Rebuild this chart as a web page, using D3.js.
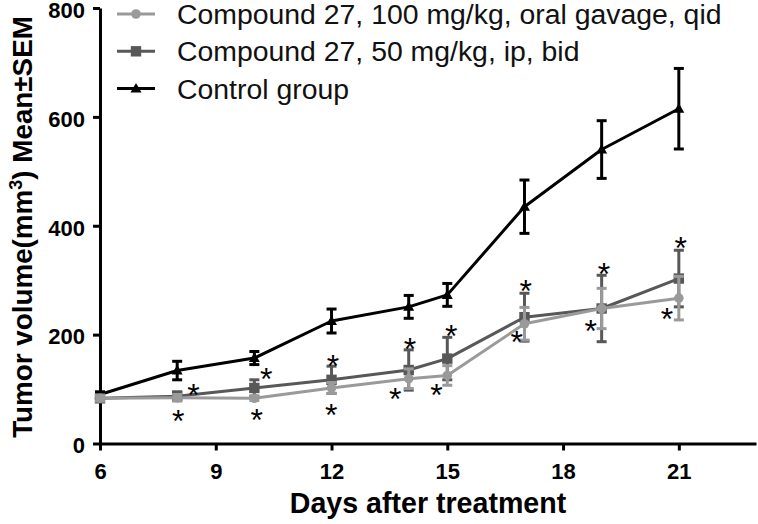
<!DOCTYPE html>
<html><head><meta charset="utf-8">
<script src="https://cdn.jsdelivr.net/npm/d3@7"></script>
<style>
html,body{margin:0;padding:0;background:#fff;}
text{font-family:"Liberation Sans",Arial,sans-serif;}
</style></head>
<body><svg id="chart" width="758" height="524"></svg>
<script>
const days = [6, 8, 10, 12, 14, 15, 17, 19, 21];
const seriesNames = ["Compound 27, 100 mg/kg, oral gavage, qid", "Compound 27, 50 mg/kg, ip, bid", "Control group"];
const c100Mean = [83, 84, 83, 102, 119, 125, 220, 248, 267];
const c100Sem  = [5, 6, 4, 10, 18, 18, 30, 37, 40];
const c50Mean  = [83, 87, 102, 117, 135, 156, 232, 248, 303];
const c50Sem   = [5, 8, 15, 25, 37, 39, 44, 61, 52];
const ctrlMean = [90, 134, 157, 225, 251, 273, 435, 540, 615];
const ctrlSem  = [5, 17, 12, 22, 21, 21, 49, 53, 74];
const xTicks = [6, 9, 12, 15, 18, 21];
const yTicks = [0, 200, 400, 600, 800];
// significance asterisks: [day, value] at mark centre
const starPos = [[8.42,101],[8.03,52],[10.31,129],[10.06,54],[12.04,154],[11.99,64],[14.03,185],[13.65,93],[15.1,208],[14.72,100],[17.03,291],[16.8,197],[19.06,323],[18.72,217],[21.05,370],[20.69,239]];

const svg = d3.select("#chart");
const x = d3.scaleLinear().domain([6, 23]).range([100, 756]);
const y = d3.scaleLinear().domain([0, 800]).range([443.5, 8]);

const series = [
  {name: seriesNames[2], mean: ctrlMean, sem: ctrlSem, color: "#000000", sym: "triangle"},
  {name: seriesNames[1], mean: c50Mean, sem: c50Sem, color: "#585858", sym: "square"},
  {name: seriesNames[0], mean: c100Mean, sem: c100Sem, color: "#9a9a9a", sym: "circle"}
];

function drawMarker(g, sym, color, cx, cy) {
  if (sym === "circle") g.append("circle").attr("cx", cx).attr("cy", cy).attr("r", 4.8).attr("fill", color);
  else if (sym === "square") g.append("rect").attr("x", cx-5.2).attr("y", cy-5.2).attr("width", 10.4).attr("height", 10.4).attr("fill", color);
  else g.append("path").attr("d", `M${cx},${cy-5.5}L${cx+5.5},${cy+4}L${cx-5.5},${cy+4}Z`).attr("fill", color);
}

// axes
const yAxis = svg.append("g").attr("transform", "translate(100,0)")
  .call(d3.axisLeft(y).tickValues(yTicks).tickSize(7).tickSizeOuter(0).tickPadding(8));
const xAxis = svg.append("g").attr("transform", "translate(0,443.5)")
  .call(d3.axisBottom(x).tickValues(xTicks).tickSize(7).tickSizeOuter(0).tickPadding(14));
[yAxis, xAxis].forEach(a => {
  a.selectAll("path.domain").attr("stroke", "#000").attr("stroke-width", 3);
  a.selectAll(".tick line").attr("stroke", "#000").attr("stroke-width", 3);
  a.selectAll(".tick text").attr("fill", "#000").style("font-size", "22px").style("font-weight", "bold")
    .style("font-family", '"Liberation Sans",Arial,sans-serif');
});
yAxis.selectAll(".tick text").attr("dy", "0.42em");
xAxis.selectAll(".tick text").attr("dy", "0.68em");

// series
const line = d3.line();
series.forEach(s => {
  const g = svg.append("g");
  const pts = days.map((d, i) => [x(d), y(s.mean[i])]);
  g.append("path").attr("d", line(pts)).attr("fill", "none").attr("stroke", s.color).attr("stroke-width", 3).attr("stroke-linejoin", "round");
  days.forEach((d, i) => {
    const cx = x(d), top = y(s.mean[i] + s.sem[i]), bot = y(s.mean[i] - s.sem[i]);
    g.append("line").attr("x1", cx).attr("x2", cx).attr("y1", top).attr("y2", bot).attr("stroke", s.color).attr("stroke-width", 3);
    [top, bot].forEach(yy => g.append("line").attr("x1", cx-5).attr("x2", cx+5).attr("y1", yy).attr("y2", yy).attr("stroke", s.color).attr("stroke-width", 3));
    drawMarker(g, s.sym, s.color, cx, y(s.mean[i]));
  });
});

// asterisks
svg.append("g").selectAll("text").data(starPos).join("text")
  .attr("x", d => x(d[0])).attr("y", d => y(d[1]) + 17)
  .attr("text-anchor", "middle").style("font-size", "32px").attr("fill", "#000").text("*");

// legend
const legendRows = [
  {name: seriesNames[0], color: "#9a9a9a", sym: "circle"},
  {name: seriesNames[1], color: "#585858", sym: "square"},
  {name: seriesNames[2], color: "#000000", sym: "triangle"}
];
legendRows.forEach((r, i) => {
  const cy = 14 + i * 37.3;
  const g = svg.append("g");
  g.append("line").attr("x1", 117).attr("x2", 155).attr("y1", cy).attr("y2", cy).attr("stroke", r.color).attr("stroke-width", 3);
  drawMarker(g, r.sym, r.color, 136, cy);
  g.append("text").attr("x", 177).attr("y", cy + 10).style("font-size", "28.4px").attr("fill", "#111").text(r.name);
});

// axis titles
svg.append("text").attr("x", 428).attr("y", 513).attr("text-anchor", "middle")
  .style("font-size", "28.6px").style("font-weight", "bold").attr("fill", "#000").text("Days after treatment");
const yt = svg.append("text").attr("transform", "translate(32,227) rotate(-90)").attr("text-anchor", "middle")
  .style("font-size", "27.8px").style("font-weight", "bold").attr("fill", "#000");
yt.append("tspan").text("Tumor volume(mm");
yt.append("tspan").attr("dy", -10).style("font-size", "18px").text("3");
yt.append("tspan").attr("dy", 10).text(") Mean\u00B1SEM");
</script></body></html>
